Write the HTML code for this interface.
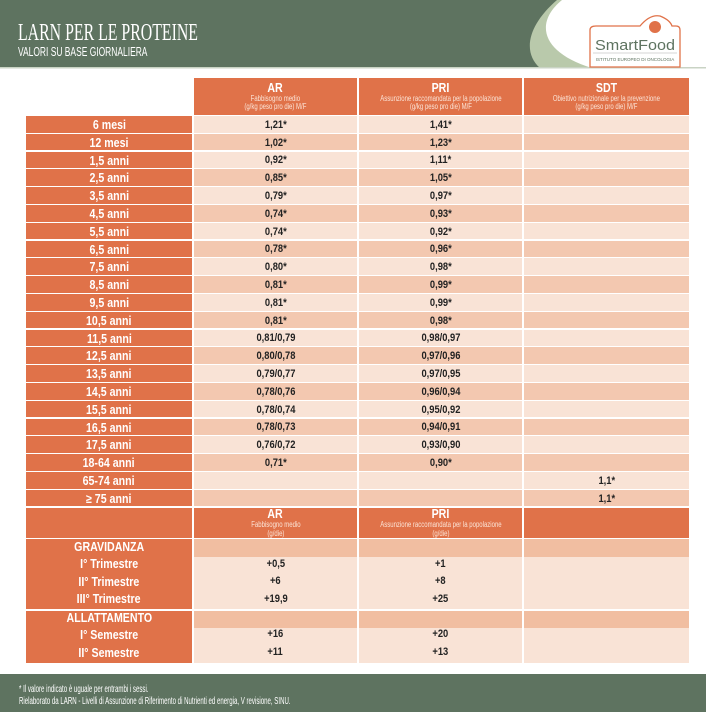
<!DOCTYPE html>
<html><head><meta charset="utf-8"><style>
*{margin:0;padding:0;box-sizing:border-box}
body{width:706px;height:712px;background:#fff;position:relative;overflow:hidden;font-family:"Liberation Sans",sans-serif}
.a{position:absolute}
.c{position:absolute;display:flex;align-items:center;justify-content:center;text-align:center;font-weight:bold;font-size:11px;color:#222;padding-top:2px;line-height:1}
.c>i{font-style:normal;display:inline-block;transform:scaleX(.85);white-space:nowrap}
.l{background:#e07249;color:#fff;font-size:12.5px}
.h{background:#e07249;color:#fff;flex-direction:column;line-height:1.05;padding-top:0}
.h b{font-size:12.5px;display:inline-block;transform:scaleX(.85)}
.h span{font-weight:normal;font-size:8px;color:#fbe3d6;display:inline-block;transform:scaleX(.75);white-space:nowrap}
.p1{background:#f9e3d6}
.p2{background:#f3c8b0}
.p3{background:#f1bea1}
</style></head><body>
<svg class="a" style="left:0;top:0" width="706" height="70">
<path d="M0 0 H562 C535 22 540 52 592 68 H0 Z" fill="#b9c9ab"/>
<path d="M0 0 H557 C528 25 522 52 540 68 H0 Z" fill="#5e7360"/>
<rect x="0" y="67" width="706" height="1.5" fill="#c9d3c4"/>
<path d="M590 67 V30 Q590 26 596 26 H640 Q650 14 660 16 Q670 20 672 26 H676 Q680 26 680 30 V67 Z" fill="#fff" stroke="#e07249" stroke-width="1.3"/>
<circle cx="655" cy="27" r="6" fill="#e07249"/>
<line x1="593" y1="53" x2="677" y2="53" stroke="#aaa" stroke-width="0.6"/>
<text x="635" y="50" text-anchor="middle" font-family="Liberation Sans" font-size="15" fill="#5e7360" textLength="80" lengthAdjust="spacingAndGlyphs">SmartFood</text>
<text x="635" y="61" text-anchor="middle" font-family="Liberation Sans" font-size="4.5" fill="#5e7360">ISTITUTO EUROPEO DI ONCOLOGIA</text>
</svg>
<div class="a" style="left:18px;top:20px;color:#fff;font-family:'Liberation Serif',serif;font-size:24px;transform:scaleX(.66);transform-origin:left;white-space:nowrap">LARN PER LE PROTEINE</div>
<div class="a" style="left:18px;top:44px;color:#fff;font-size:13px;transform:scaleX(.65);transform-origin:left;white-space:nowrap">VALORI SU BASE GIORNALIERA</div>

<div class="c h" style="left:194px;top:78px;width:163px;height:37px"><b>AR</b><span>Fabbisogno medio<br>(g/kg peso pro die) M/F</span></div>
<div class="c h" style="left:359px;top:78px;width:163px;height:37px"><b>PRI</b><span>Assunzione raccomandata per la popolazione<br>(g/kg peso pro die) M/F</span></div>
<div class="c h" style="left:524px;top:78px;width:165px;height:37px"><b>SDT</b><span>Obiettivo nutrizionale per la prevenzione<br>(g/kg peso pro die) M/F</span></div>

<div id="rows"></div>
<script>
var d=[["6 mesi","1,21*","1,41*",""],["12 mesi","1,02*","1,23*",""],["1,5 anni","0,92*","1,11*",""],["2,5 anni","0,85*","1,05*",""],["3,5 anni","0,79*","0,97*",""],["4,5 anni","0,74*","0,93*",""],["5,5 anni","0,74*","0,92*",""],["6,5 anni","0,78*","0,96*",""],["7,5 anni","0,80*","0,98*",""],["8,5 anni","0,81*","0,99*",""],["9,5 anni","0,81*","0,99*",""],["10,5 anni","0,81*","0,98*",""],["11,5 anni","0,81/0,79","0,98/0,97",""],["12,5 anni","0,80/0,78","0,97/0,96",""],["13,5 anni","0,79/0,77","0,97/0,95",""],["14,5 anni","0,78/0,76","0,96/0,94",""],["15,5 anni","0,78/0,74","0,95/0,92",""],["16,5 anni","0,78/0,73","0,94/0,91",""],["17,5 anni","0,76/0,72","0,93/0,90",""],["18-64 anni","0,71*","0,90*",""],["65-74 anni","","","1,1*"],["≥ 75 anni","","","1,1*"]];
var h="",X=[[26,166],[194,163],[359,163],[524,165]];
d.forEach(function(r,i){var t=(116+i*17.8).toFixed(1),p=i%2?"p2":"p1";
r.forEach(function(v,j){h+='<div class="c '+(j?p:'l')+'" style="left:'+X[j][0]+'px;top:'+t+'px;width:'+X[j][1]+'px;height:16.5px"><i>'+v+'</i></div>';});});
document.getElementById("rows").innerHTML=h;
</script>

<div class="c l" style="left:26px;top:508px;width:166px;height:30px"></div>
<div class="c h" style="left:194px;top:508px;width:163px;height:30px"><b>AR</b><span>Fabbisogno medio<br>(g/die)</span></div>
<div class="c h" style="left:359px;top:508px;width:163px;height:30px"><b>PRI</b><span>Assunzione raccomandata per la popolazione<br>(g/die)</span></div>
<div class="c h" style="left:524px;top:508px;width:165px;height:30px"></div>

<div class="a l" style="left:26px;top:539px;width:166px;height:70px"></div>
<div class="a p3" style="left:194px;top:539px;width:163px;height:18px"></div>
<div class="a p3" style="left:359px;top:539px;width:163px;height:18px"></div>
<div class="a p3" style="left:524px;top:539px;width:165px;height:18px"></div>
<div class="a p1" style="left:194px;top:557px;width:163px;height:52px"></div>
<div class="a p1" style="left:359px;top:557px;width:163px;height:52px"></div>
<div class="a p1" style="left:524px;top:557px;width:165px;height:52px"></div>

<div class="a l" style="left:26px;top:611px;width:166px;height:52px"></div>
<div class="a p3" style="left:194px;top:611px;width:163px;height:17px"></div>
<div class="a p3" style="left:359px;top:611px;width:163px;height:17px"></div>
<div class="a p3" style="left:524px;top:611px;width:165px;height:17px"></div>
<div class="a p1" style="left:194px;top:628px;width:163px;height:35px"></div>
<div class="a p1" style="left:359px;top:628px;width:163px;height:35px"></div>
<div class="a p1" style="left:524px;top:628px;width:165px;height:35px"></div>

<div class="c" style="left:26px;top:538px;width:166px;height:17px;color:#fff;font-size:12.5px"><i>GRAVIDANZA</i></div>
<div class="c" style="left:26px;top:555px;width:166px;height:17px;color:#fff;font-size:12.5px"><i>I° Trimestre</i></div>
<div class="c" style="left:26px;top:573px;width:166px;height:17px;color:#fff;font-size:12.5px"><i>II° Trimestre</i></div>
<div class="c" style="left:26px;top:590px;width:166px;height:17px;color:#fff;font-size:12.5px"><i>III° Trimestre</i></div>
<div class="c" style="left:26px;top:609px;width:166px;height:17px;color:#fff;font-size:12.5px"><i>ALLATTAMENTO</i></div>
<div class="c" style="left:26px;top:626px;width:166px;height:17px;color:#fff;font-size:12.5px"><i>I° Semestre</i></div>
<div class="c" style="left:26px;top:644px;width:166px;height:17px;color:#fff;font-size:12.5px"><i>II° Semestre</i></div>

<div class="c" style="left:194px;top:555px;width:163px;height:17px"><i>+0,5</i></div>
<div class="c" style="left:194px;top:572px;width:163px;height:17px"><i>+6</i></div>
<div class="c" style="left:194px;top:590px;width:163px;height:17px"><i>+19,9</i></div>
<div class="c" style="left:194px;top:625px;width:163px;height:17px"><i>+16</i></div>
<div class="c" style="left:194px;top:643px;width:163px;height:17px"><i>+11</i></div>
<div class="c" style="left:359px;top:555px;width:163px;height:17px"><i>+1</i></div>
<div class="c" style="left:359px;top:572px;width:163px;height:17px"><i>+8</i></div>
<div class="c" style="left:359px;top:590px;width:163px;height:17px"><i>+25</i></div>
<div class="c" style="left:359px;top:625px;width:163px;height:17px"><i>+20</i></div>
<div class="c" style="left:359px;top:643px;width:163px;height:17px"><i>+13</i></div>

<div class="a" style="left:0;top:674px;width:706px;height:38px;background:#5e7360"></div>
<div class="a" style="left:19px;top:684px;color:#fff;font-size:10px;line-height:11.5px;transform:scaleX(.61);transform-origin:left;white-space:nowrap">* Il valore indicato è uguale per entrambi i sessi.<br>Rielaborato da LARN - Livelli di Assunzione di Riferimento di Nutrienti ed energia, V revisione, SINU.</div>
</body></html>
